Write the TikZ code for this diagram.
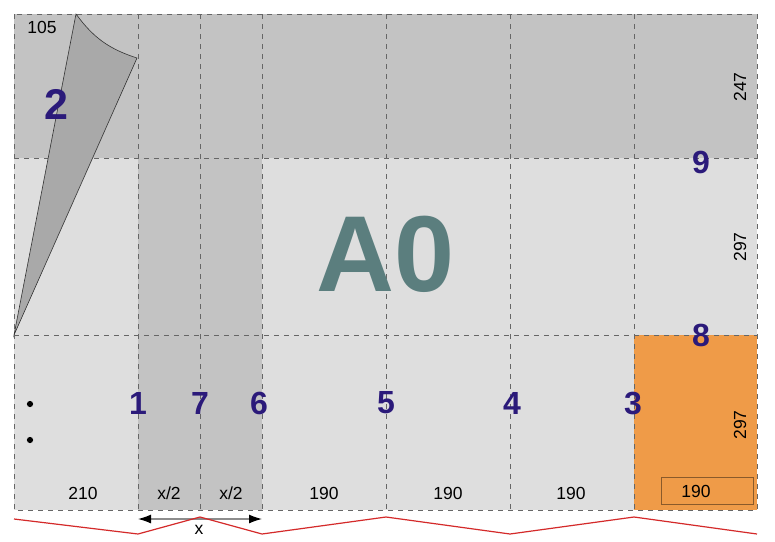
\documentclass[tikz,border=0pt]{standalone}
\usepackage{fontspec}
\setmainfont{Liberation Sans}
\usetikzlibrary{arrows.meta}

\definecolor{topgray}{HTML}{C3C3C3}
\definecolor{sheetgray}{HTML}{DEDEDE}
\definecolor{flapgray}{HTML}{A9A9A9}
\definecolor{foldorange}{HTML}{EF9B48}
\definecolor{boxbrown}{HTML}{8A5A2A}
\definecolor{numblue}{HTML}{2B1A7A}
\definecolor{titleteal}{HTML}{5B7E7E}
\definecolor{cutred}{HTML}{D42A2A}

\begin{document}
\begin{tikzpicture}[x=1pt,y=-1pt,
	fold/.style={draw=black!60, line width=0.9pt, dash pattern=on 5pt off 5pt},
	num/.style={text=numblue, font=\bfseries\fontsize{32}{32}\selectfont},
	size/.style={font=\fontsize{17.5}{17.5}\selectfont}]

\useasboundingbox[fill=white] (0,0) rectangle (775,541);

\fill[sheetgray] (14,158) rectangle (757,510);
\fill[topgray] (14,14) rectangle (757,158);
\fill[topgray] (138,158) rectangle (262,510);
\fill[foldorange] (634,335) rectangle (757,510);

\foreach \x in {138,200,262,386,510,634}
	\draw[fold] (\x,14) -- (\x,510);
\draw[fold] (14,158) -- (757,158);
\draw[fold] (14,335) -- (757,335);
\draw[fold] (14,14) rectangle (757,510);

\filldraw[fill=flapgray, draw=black!80, line width=0.6pt]
	(14,335) -- (76,14) to[bend right=18] (137,58) -- cycle;

\draw[boxbrown, line width=0.8pt] (661,477) rectangle (753,504);

\node[size] at (42,27) (w105) {105};
\node[num, font=\bfseries\fontsize{43}{43}\selectfont] at (56,104) (n2) {2};
\node[text=titleteal, font=\bfseries\fontsize{108}{108}\selectfont] at (386,254) (title) {A0};

\node[size, rotate=90] at (740,87) (h247) {247};
\node[size, rotate=90] at (740,247) (h297a) {297};
\node[size, rotate=90] at (740,425) (h297b) {297};

\node[num] at (701,162) (n9) {9};
\node[num] at (701,335) (n8) {8};
\node[num] at (138,403) (n1) {1};
\node[num] at (200,403) (n7) {7};
\node[num] at (259,403) (n6) {6};
\node[num] at (386,403) (n5) {5};
\node[num] at (512,403) (n4) {4};
\node[num] at (633,403) (n3) {3};

\node[circle, fill=black, inner sep=2.2pt] at (30,404) (dot1) {};
\node[circle, fill=black, inner sep=2.2pt] at (30,440) (dot2) {};

\node[size] at (83,493) (w210) {210};
\node[size] at (169,493) (half1) {x/2};
\node[size] at (231,493) (half2) {x/2};
\node[size] at (324,493) (w190a) {190};
\node[size] at (448,493) (w190b) {190};
\node[size] at (571,493) (w190c) {190};
\node[size] at (696,491) (w190d) {190};

\coordinate (xl) at (138,519);
\coordinate (xr) at (262,519);
\draw[black!45, line width=1.2pt, {Latex[black,length=13pt,width=9pt]}-{Latex[black,length=13pt,width=9pt]}] (xl) -- (xr);
\node[size] at (199,530) (xlab) {x};

\draw[cutred, line width=1.2pt] (14,519) -- (138,534) -- (200,517) -- (262,534) -- (386,517)
	-- (510,534) -- (634,517) -- (757,534);

\end{tikzpicture}
\end{document}
